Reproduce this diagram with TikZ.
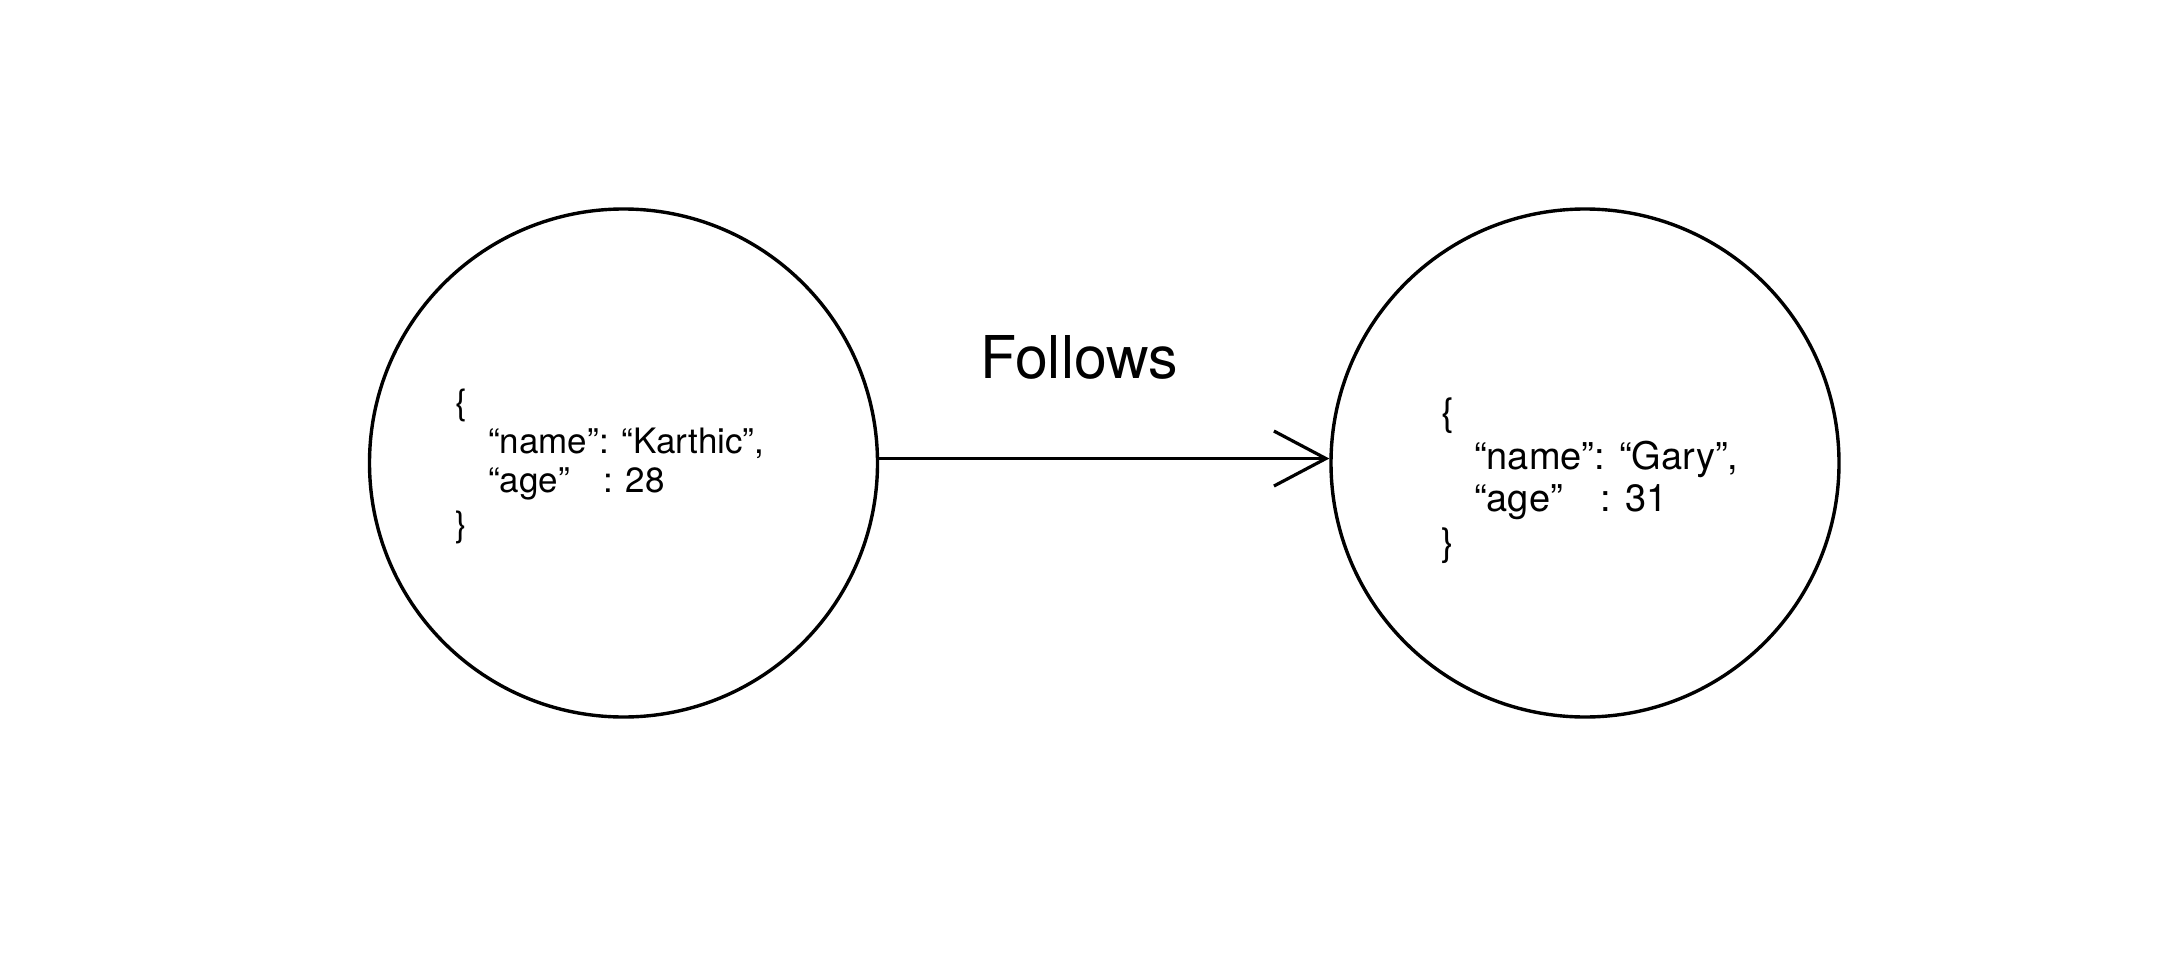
\documentclass[tikz,border=0pt]{standalone}
\usepackage{fontspec}
\setmainfont{TeX Gyre Heros}
\usetikzlibrary{arrows.meta}
\begin{document}
\begin{tikzpicture}[x=1pt,y=-1pt,
  entity/.style={draw=black,line width=3.4pt,circle,minimum size=508pt,inner sep=0pt},
  jsonl/.style={anchor=base west,inner sep=0pt,font=\fontsize{35}{40}\selectfont},
  jsonr/.style={anchor=base west,inner sep=0pt,font=\fontsize{38}{40}\selectfont},
  rel/.style={line width=3.2pt,-{Straight Barb[length=52pt,width=55pt,line width=3.2pt]}},
  lbl/.style={anchor=base west,inner sep=0pt,font=\fontsize{59}{68}\selectfont}]
\useasboundingbox[fill=white] (0,0) rectangle (2163,960);
\node[entity] (L) at (623.5,463) {};
\node[entity] (R) at (1585,463) {};
% left JSON
\node[jsonl] (l1) at (455,414) {\{};
\node[jsonl] (l2) at (488,453) {“name”: “Karthic”,};
\node[jsonl] (l3) at (488,492) {“age”\hspace{0.95em}: 28};
\node[jsonl] (l4) at (455,536) {\}};
% right JSON
\node[jsonr] (r1) at (1441,425) {\{};
\node[jsonr] (r2) at (1474,469) {“name”: “Gary”,};
\node[jsonr] (r3) at (1474,511) {“age”\hspace{1.0em}: 31};
\node[jsonr] (r4) at (1441,555) {\}};
\node[lbl] (f) at (980,378) {Follows};
\draw[rel] (L.1.35) -- (R.179.5);
\end{tikzpicture}
\end{document}
